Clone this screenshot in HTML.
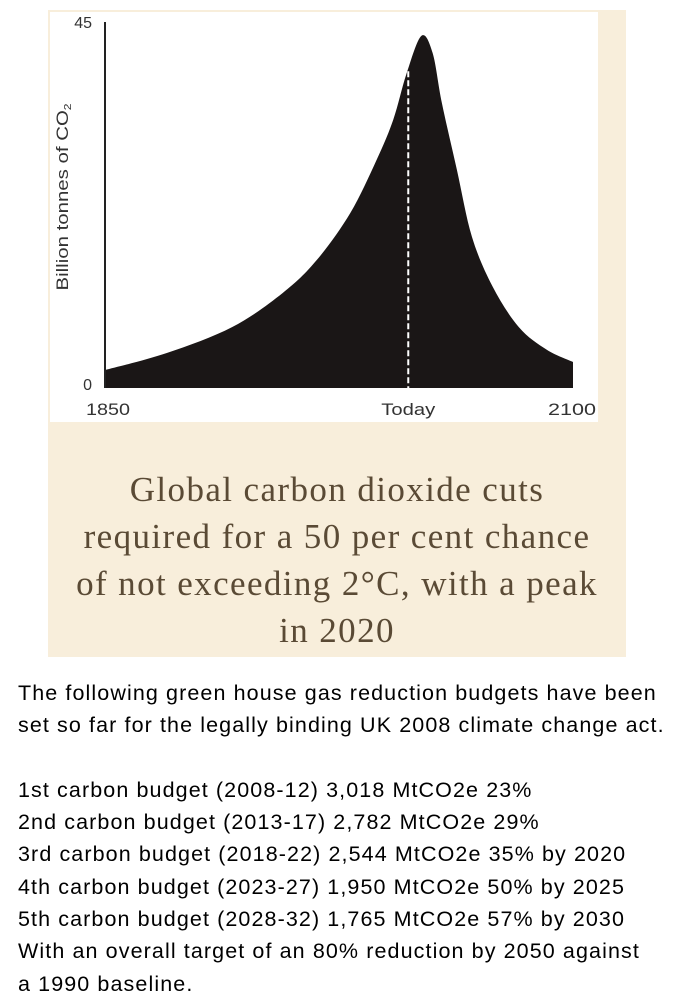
<!DOCTYPE html>
<html><head><meta charset="utf-8"><style>
body{margin:0;width:680px;height:1000px;background:#fff;position:relative;overflow:hidden;font-family:"Liberation Sans",sans-serif}
#panel{position:absolute;left:48px;top:10px;width:578px;height:647px;background:#f8eedb}
#chartbg{position:absolute;left:50px;top:12px;width:548px;height:410px;background:#fff}
#caption{position:absolute;left:48px;width:578px;top:466px;text-align:center;font-family:"Liberation Serif",serif;font-size:35px;letter-spacing:1.4px;line-height:47px;color:#5a4a35}
#body{position:absolute;left:18px;top:677px;font-size:21.5px;letter-spacing:1.1px;line-height:32.3px;color:#000;white-space:pre}
</style></head><body>
<div id="panel"></div>
<div id="chartbg"></div>
<svg id="chart" width="680" height="440" style="position:absolute;left:0;top:0"></svg>
<div id="caption">Global carbon dioxide cuts<br>required for a 50 per cent chance<br>of not exceeding 2°C, with a peak<br>in 2020</div>
<div id="body">The following green house gas reduction budgets have been
set so far for the legally binding UK 2008 climate change act.

1st carbon budget (2008-12) 3,018 MtCO2e 23%
2nd carbon budget (2013-17) 2,782 MtCO2e 29%
3rd carbon budget (2018-22) 2,544 MtCO2e 35% by 2020
4th carbon budget (2023-27) 1,950 MtCO2e 50% by 2025
5th carbon budget (2028-32) 1,765 MtCO2e 57% by 2030
With an overall target of an 80% reduction by 2050 against
a 1990 baseline.</div>
<script>
const years=[1850,1883,1918,1945,1963,1981,1995,2004,2011,2019,2025,2030,2038,2046,2057,2071,2086,2100];
const values=[2.2,4.3,7.5,11.7,15.7,21.5,28,33,38.6,43.3,41.2,35,26.8,18.6,12.5,7.5,4.7,3.2];
const todayYear=2012;
const xTicks=["1850","Today","2100"];
const yTicks=["0","45"];
const X0=105,X1=573,Y0=388,Y1=22;
const sx=y=>X0+(y-1850)/(2100-1850)*(X1-X0);
const sy=v=>Y0-v/45*(Y0-Y1);
const svg=document.getElementById('chart');
const NS='http://www.w3.org/2000/svg';
function mk(t,a){const e=document.createElementNS(NS,t);for(const k in a)e.setAttribute(k,a[k]);svg.appendChild(e);return e;}
const pts=years.map((y,i)=>[sx(y),sy(values[i])]);
let d=`M${sx(1850)},${Y0} L${pts[0][0]},${pts[0][1]}`;
for(let i=0;i<pts.length-1;i++){const p0=pts[Math.max(0,i-1)],p1=pts[i],p2=pts[i+1],p3=pts[Math.min(pts.length-1,i+2)];
d+=` C${p1[0]+(p2[0]-p0[0])/6},${p1[1]+(p2[1]-p0[1])/6} ${p2[0]-(p3[0]-p1[0])/6},${p2[1]-(p3[1]-p1[1])/6} ${p2[0]},${p2[1]}`;}
d+=` L${sx(2100)},${Y0} Z`;
const area=mk('path',{d:d,fill:'#1a1616'});


const ax=mk('line',{x1:X0,y1:Y1,x2:X0,y2:Y0,stroke:'#222','stroke-width':2});


let ti=0;while(ti<years.length-2&&years[ti+1]<todayYear)ti++;
const tv=values[ti]+(values[ti+1]-values[ti])*(todayYear-years[ti])/(years[ti+1]-years[ti]);
const dl=mk('line',{x1:sx(todayYear),x2:sx(todayYear),y1:sy(tv)+2,y2:Y0,stroke:'#fff','stroke-width':2,'stroke-dasharray':'6,3'});


const xPos=[108,sx(todayYear),572];
const xLen=[44,54,48];
xTicks.forEach((t,i)=>{const e=mk('text',{x:xPos[i],y:415,'font-size':17,fill:'#333','text-anchor':'middle',textLength:xLen[i],lengthAdjust:'spacingAndGlyphs','font-family':'Liberation Sans,sans-serif'});e.textContent=t;

});
const yVals=[0,45];
yTicks.forEach((t,i)=>{const e=mk('text',{x:92,y:sy(yVals[i])+(i==0?2:6),'font-size':16,fill:'#333','text-anchor':'end','font-family':'Liberation Sans,sans-serif'});e.textContent=t;

});
const yt=mk('text',{x:0,y:0,'font-size':17,fill:'#333','text-anchor':'middle',textLength:187,lengthAdjust:'spacingAndGlyphs','font-family':'Liberation Sans,sans-serif',transform:'translate(68,197) rotate(-90)'});
yt.innerHTML='Billion tonnes of CO<tspan font-size="10" dy="3">2</tspan>';


</script>
</body></html>
